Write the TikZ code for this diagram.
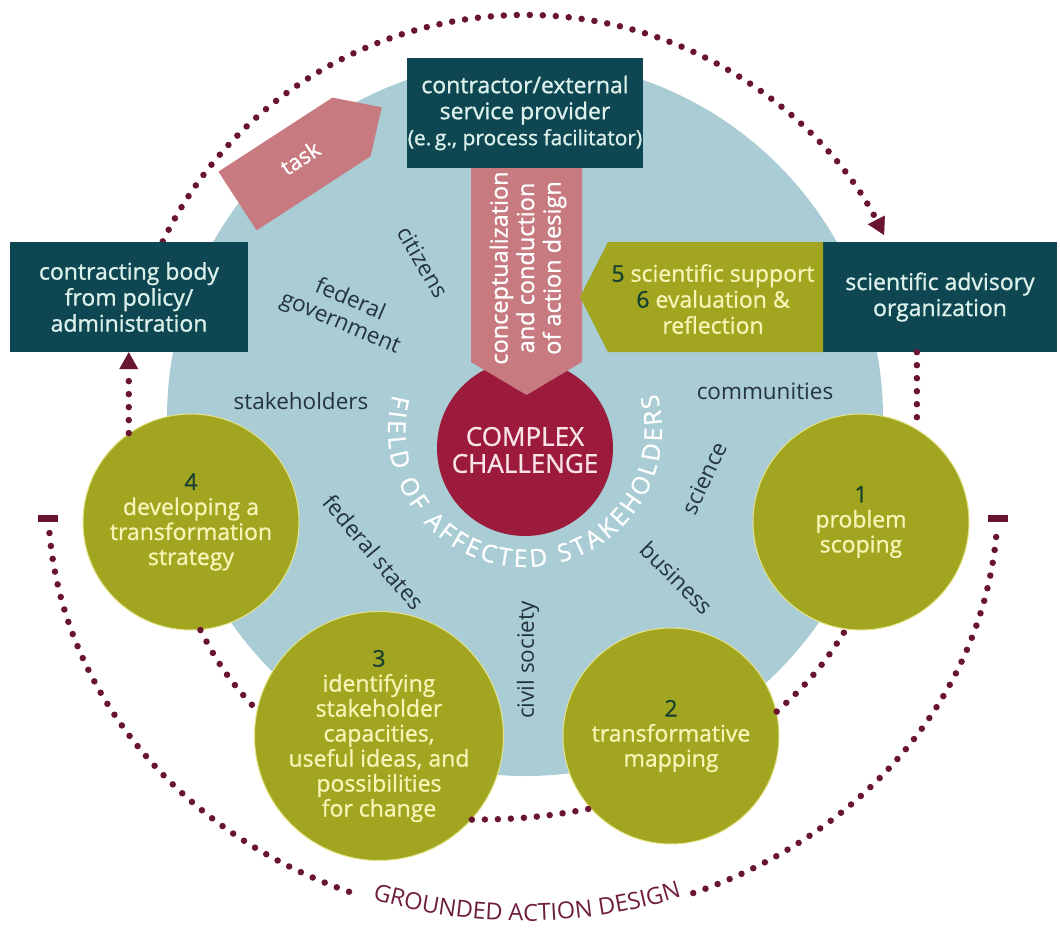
\documentclass[tikz,border=0pt]{standalone}
\usepackage{fontspec}
\setmainfont{Open Sans}
\newfontfamily\medfont{Open Sans}[FakeBold=1]
\usetikzlibrary{arrows.meta,decorations.text,calc}
\definecolor{boxteal}{HTML}{0E4751}
\definecolor{boxtxt}{HTML}{DDF1EC}
\definecolor{fieldblue}{HTML}{A9CCD5}
\definecolor{olivegr}{HTML}{A2A520}
\definecolor{olivelt}{HTML}{E4E38A}
\definecolor{ytxt}{HTML}{F8F4B6}
\definecolor{numgr}{HTML}{17402F}
\definecolor{crimsonc}{HTML}{9C1A3B}
\definecolor{pinkarr}{HTML}{C77A80}
\definecolor{dotmaroon}{HTML}{6A1434}
\definecolor{slate}{HTML}{24333C}
\definecolor{grdtxt}{HTML}{6E1D3E}
\definecolor{cctxt}{HTML}{F7E3E8}
\newcommand\grdfont{\color{grdtxt}\fontsize{23.5}{23.5}\selectfont}
\newcommand\fieldfont{\color{white}\medfont\fontsize{24.5}{24.5}\selectfont}
\begin{document}
\begin{tikzpicture}[x=1pt,y=1pt,
  box/.style={fill=boxteal,text=boxtxt,minimum width=236pt,minimum height=110pt,inner sep=0pt,align=center,font=\medfont\fontsize{23}{26}\selectfont},
  stage/.style={circle,fill=olivegr,draw=olivelt,line width=1pt,minimum size=216pt,inner sep=0pt,align=center,text=ytxt,font=\medfont\fontsize{23}{25}\selectfont},
  lbl/.style={text=slate,font=\fontsize{22.5}{25}\selectfont,align=center,inner sep=0pt},
  dotline/.style={draw=dotmaroon,line width=6.5pt,line cap=round,dash pattern=on 0pt off 13pt},
  tipa/.style={-{Triangle[length=17pt,width=19pt,line width=0.5pt]}},
  endbar/.style={fill=dotmaroon,minimum width=20pt,minimum height=7pt,inner sep=0pt}
]
\useasboundingbox (0,0) rectangle (1060,-929);
\coordinate (ctr) at (525,-418);
\node[circle,fill=fieldblue,minimum size=716pt,inner sep=0pt] (field) at (ctr) {};

% top dotted arc: contracting body -> scientific advisory
\draw[dotline,tipa] ([shift={(154:403pt)}]ctr) arc[start angle=154,end angle=27,radius=403pt];

% complex challenge
\node[circle,fill=crimsonc,minimum size=176pt,inner sep=0pt] (cc) at (525,-448) {};
\node[text=cctxt,align=center,font=\medfont\fontsize{26}{27}\selectfont] (cct) at (525,-450) {COMPLEX\\CHALLENGE};

% pink vertical arrow
\fill[pinkarr] (471,-168) -- (582,-168) -- (582,-362) -- (526.5,-395) -- (471,-362) -- cycle;
\node[rotate=90,text=white,align=center,font=\medfont\fontsize{23.5}{26.5}\selectfont] (cad) at (528,-268) {conceptualization\\and conduction\\of action design};

% contractor box
\node[box] (ct) at (525,-113) {contractor/external\\service provider\\{\fontsize{21}{26}\selectfont (e.\,g., process facilitator)}};

% task arrow
\begin{scope}[shift={(237.5,-201)},rotate=33]
\fill[pinkarr] (0,35) -- (136,35) -- (172,0) -- (136,-35) -- (0,-35) -- cycle;
\node[text=white,rotate=33,font=\medfont\fontsize{22}{24}\selectfont] (task) at (76,2) {task};
\end{scope}

% side boxes
\node[box,minimum width=238pt] (cb) at (129,-297) {contracting body\\from policy/\\administration};
\node[box,minimum width=234pt] (sa) at (940,-297) {scientific advisory\\organization};
\fill[olivegr] (580,-297) -- (608,-242) -- (823,-242) -- (823,-352) -- (608,-352) -- cycle;
\node[align=center,text=ytxt,font=\medfont\fontsize{23}{26}\selectfont] (sup) at (713,-299) {\textcolor{numgr}{5} scientific support\\\textcolor{numgr}{6} evaluation \&\\reflection};

% stages
\node[stage] (c1) at (861,-522) {\textcolor{numgr}{1}\\problem\\scoping};
\node[stage] (c2) at (671,-736) {\textcolor{numgr}{2}\\transformative\\mapping};
\node[stage] (c3) at (379,-736) {\textcolor{numgr}{3}\\identifying\\stakeholder\\capacities,\\useful ideas, and\\possibilities\\for change};
\node[stage] (c4) at (191,-522) {\textcolor{numgr}{4}\\developing a\\transformation\\strategy};

% vertical dotted links
\draw[dotline,tipa] (c4.125) -- (c4.125 |- cb.south);
\draw[dotline] (sa.south -| c1.59) -- (c1.59);

% links between stages
\draw[dotline] (c4.-85) to[bend right=8] (c3.168);
\draw[dotline] (c3.-42) to[bend right=5] (c2.-138);
\draw[dotline] (c2.13) to[bend right=8] (c1.-98);

% outer grounded action design arc
\coordinate (ec) at (523,-500);
\draw[dotline] ([shift={(184.5:475pt and 421pt)}]ec) arc[start angle=184.5,end angle=250,x radius=475pt,y radius=421pt];
\draw[dotline] ([shift={(291:475pt and 421pt)}]ec) arc[start angle=291,end angle=355.5,x radius=475pt,y radius=421pt];
\node[endbar] (lb) at ([shift={(182.5:475pt and 421pt)}]ec) {};
\node[endbar] (rb) at ([shift={(357.5:475pt and 421pt)}]ec) {};
\path[decorate,decoration={text along path,text={|\grdfont|GROUNDED ACTION DESIGN},text align=fit to path}] ([shift={(251.5:475pt and 421pt)}]ec) arc[start angle=251.5,end angle=289.5,x radius=475pt,y radius=421pt];

% field of affected stakeholders
\coordinate (fc) at (525,-430);
\path[decorate,decoration={text along path,text={|\fieldfont|FIELD OF AFFECTED STAKEHOLDERS},text align=fit to path}] ([shift={(165:137pt)}]fc) arc[start angle=165,end angle=375.5,radius=137pt];

% stakeholder labels
\node[lbl,rotate=-60] (cit) at (423,-262) {citizens};
\node[lbl,rotate=-23] (fg) at (345,-312) {federal\\government};
\node[lbl] (sth) at (301,-401) {stakeholders};
\node[lbl] (com) at (765,-391) {communities};
\node[lbl,rotate=65] (sci) at (704,-478) {science};
\node[lbl,rotate=-45] (bus) at (677,-578) {business};
\node[lbl,rotate=90] (civ) at (528,-660) {civil society};
\node[lbl,rotate=-50] (fst) at (374,-552) {federal states};
\end{tikzpicture}
\end{document}
